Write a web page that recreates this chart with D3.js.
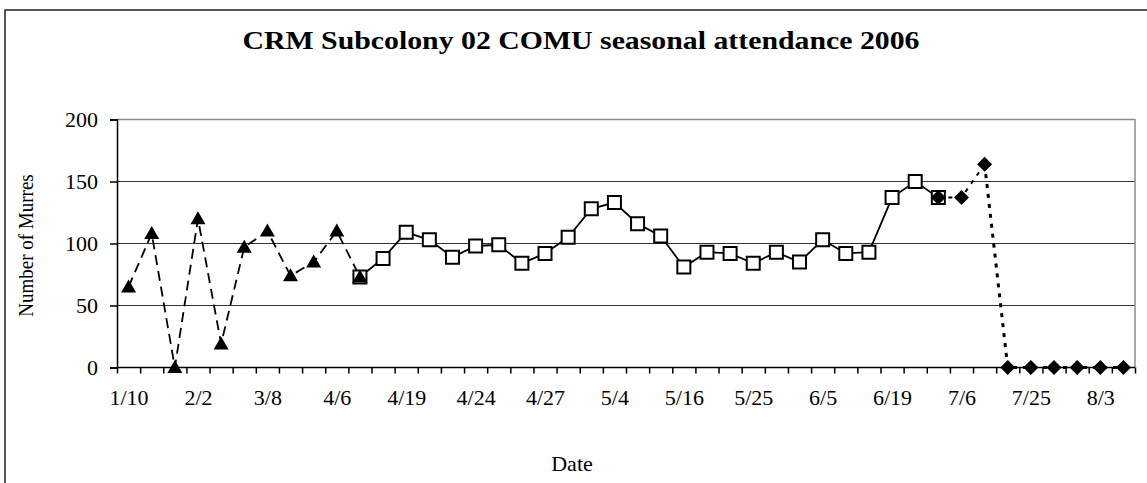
<!DOCTYPE html>
<html>
<head>
<meta charset="utf-8">
<script src="https://cdn.jsdelivr.net/npm/d3@7/dist/d3.min.js"></script>
<style>
  body { margin: 0; background: #fff; }
  svg text { font-family: "Liberation Serif", "Times New Roman", serif; fill: #000; }
</style>
</head>
<body>
<svg id="chart" width="1147" height="483"></svg>
<script>
(function() {
  // survey count and date labels (every 3rd survey labelled)
  var nSurveys = 44;
  var tickLabels = ["1/10", "2/2", "3/8", "4/6", "4/19", "4/24", "4/27", "5/4",
                    "5/16", "5/25", "6/5", "6/19", "7/6", "7/25", "8/3"];
  var yTicks = [0, 50, 100, 150, 200];

  // triangles, starting at survey 0
  var triStart = 0;
  var triValues = [65, 108, 0, 120, 19, 97, 110, 74, 85, 110, 73];
  // squares, starting at survey 10
  var sqStart = 10;
  var sqValues = [73, 88, 109, 103, 89, 98, 99, 84, 92, 105, 128, 133, 116,
                  106, 81, 93, 92, 84, 93, 85, 103, 92, 93, 137, 150, 137];
  // diamonds, starting at survey 35
  var diaStart = 35;
  var diaValues = [137, 137, 164, 0, 0, 0, 0, 0, 0];

  var plot = {left: 117, right: 1135, top: 119.5, bottom: 367.5};

  var svg = d3.select("#chart");

  var x = d3.scaleLinear().domain([0, nSurveys]).range([plot.left, plot.right]);
  var y = d3.scaleLinear().domain([0, 200]).range([plot.bottom, plot.top]);

  function pts(start, vals) {
    return vals.map(function(v, i) { return {i: start + i, v: v}; });
  }
  var tri = pts(triStart, triValues),
      sq = pts(sqStart, sqValues),
      dia = pts(diaStart, diaValues);

  var line = d3.line()
      .x(function(d) { return x(d.i + 0.5); })
      .y(function(d) { return y(d.v); });

  // outer chart border
  svg.append("rect")
      .attr("x", 5).attr("y", 10)
      .attr("width", 1200).attr("height", 520)
      .attr("fill", "none").attr("stroke", "#222").attr("stroke-width", 1.5);

  // title
  svg.append("text")
      .attr("x", 581).attr("y", 49)
      .attr("text-anchor", "middle")
      .attr("font-size", 25).attr("font-weight", "bold")
      .attr("textLength", 677).attr("lengthAdjust", "spacingAndGlyphs")
      .text("CRM Subcolony 02 COMU seasonal attendance 2006");

  // gridlines
  svg.append("g").selectAll("line")
      .data([50, 100, 150])
    .enter().append("line")
      .attr("x1", plot.left).attr("x2", plot.right)
      .attr("y1", function(d) { return y(d); })
      .attr("y2", function(d) { return y(d); })
      .attr("stroke", "#333").attr("stroke-width", 1);

  // plot area border (top / right)
  svg.append("path")
      .attr("d", "M" + plot.left + "," + y(200) + "H" + plot.right + "V" + plot.bottom)
      .attr("fill", "none").attr("stroke", "#8c8c8c").attr("stroke-width", 1.5);

  // y axis
  var yAxis = svg.append("g")
      .attr("transform", "translate(" + plot.left + ",0)")
      .call(d3.axisLeft(y).tickValues(yTicks).tickSize(7).tickPadding(12));
  yAxis.selectAll("text").attr("font-size", 22);
  yAxis.selectAll("line, path").attr("stroke", "#000").attr("stroke-width", 1.5);

  // x axis: tick marks on category boundaries
  var xAxis = svg.append("g")
      .attr("transform", "translate(0," + plot.bottom + ")")
      .call(d3.axisBottom(x).tickValues(d3.range(nSurveys + 1)).tickSize(6).tickFormat(""));
  xAxis.selectAll("line, path").attr("stroke", "#000").attr("stroke-width", 1.5);
  xAxis.select(".domain").attr("d", "M" + plot.left + ",0H" + plot.right);

  // x labels every third survey
  var xLab = svg.append("g")
      .attr("transform", "translate(0," + plot.bottom + ")")
      .call(d3.axisBottom(x)
        .tickValues(tickLabels.map(function(t, k) { return k * 3 + 0.5; }))
        .tickFormat(function(d) { return tickLabels[(d - 0.5) / 3]; })
        .tickSize(0).tickPadding(22));
  xLab.select(".domain").remove();
  xLab.selectAll("text").attr("font-size", 22);

  // axis titles
  svg.append("text")
      .attr("x", 572).attr("y", 471)
      .attr("text-anchor", "middle").attr("font-size", 22)
      .text("Date");
  svg.append("text")
      .attr("transform", "translate(33," + ((plot.top + plot.bottom) / 2 + 2) + ") rotate(-90) scale(1,1.15)")
      .attr("text-anchor", "middle").attr("font-size", 19)
      .text("Number of Murres");

  // series lines
  svg.append("path").datum(tri)
      .attr("d", line)
      .attr("fill", "none").attr("stroke", "#000").attr("stroke-width", 1.8)
      .attr("stroke-dasharray", "10,6");

  svg.append("path").datum(sq)
      .attr("d", line)
      .attr("fill", "none").attr("stroke", "#000").attr("stroke-width", 1.8);

  svg.append("path").datum(dia.slice(0, 3))
      .attr("d", line)
      .attr("fill", "none").attr("stroke", "#000").attr("stroke-width", 2)
      .attr("stroke-dasharray", "4,6");

  svg.append("path").datum(dia.slice(2))
      .attr("d", line)
      .attr("fill", "none").attr("stroke", "#000").attr("stroke-width", 3)
      .attr("stroke-dasharray", "4,6");

  // markers
  var triPath = "M0,-7.5L7.5,5.5L-7.5,5.5Z",
      sqPath = "M-6.5,-6.5H6.5V6.5H-6.5Z",
      diaPath = "M0,-7.5L7.5,0L0,7.5L-7.5,0Z";

  function tr(d) { return "translate(" + x(d.i + 0.5) + "," + y(d.v) + ")"; }

  svg.append("g").selectAll("path")
      .data(tri)
    .enter().append("path")
      .attr("d", triPath)
      .attr("transform", tr)
      .attr("fill", "#000");

  svg.append("g").selectAll("path")
      .data(sq)
    .enter().append("path")
      .attr("d", sqPath)
      .attr("transform", tr)
      .attr("fill", "#fff").attr("stroke", "#000").attr("stroke-width", 2);

  // the triangle that shares the first square's date sits on top
  svg.append("path")
      .attr("d", triPath)
      .attr("transform", tr(tri[tri.length - 1]))
      .attr("fill", "#000");

  svg.append("g").selectAll("path")
      .data(dia)
    .enter().append("path")
      .attr("d", diaPath)
      .attr("transform", tr)
      .attr("fill", "#000");
})();
</script>
</body>
</html>
